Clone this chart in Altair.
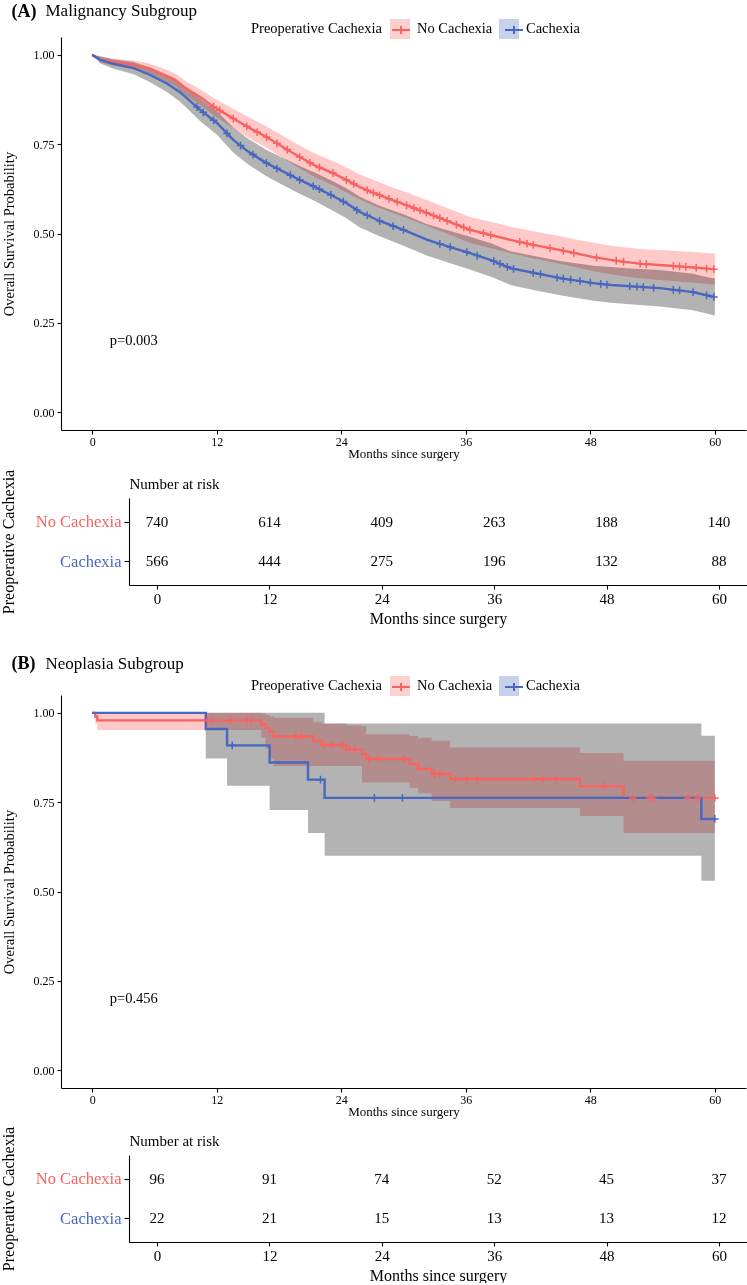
import altair as alt
import numpy as np
import pandas as pd

FONT = "Liberation Serif"
GROUPS = ["No Cachexia", "Cachexia"]
RED = "#F8625F"
BLUE = "#4767C0"
PINK = "#FFC9C9"
GRAY = "#B3B3B3"
MONTH_TICKS = [0, 12, 24, 36, 48, 60]
PROB_TICKS = [0.0, 0.25, 0.5, 0.75, 1.0]
CENSOR_SHAPE = "M-1,0H1M0,-1V1"
KEY_SHAPE = "M-0.9,0H0.9M0,-0.4V0.4"

# ---------------- (A) Malignancy subgroup ----------------
A_NO_T = [0, 0.8, 2, 4, 5.5, 6.5, 8, 9, 10.5, 11.7, 13, 14.3, 15.5, 16.8, 18.5, 20, 21.5, 23.2, 24.5, 25.8,
          27, 28.5, 30, 32.3, 34.5, 36.4, 38.5, 40.3, 42.5, 45, 46.5, 48.3, 50, 51.5, 53, 54.7, 56.5, 58, 59.5, 60]
A_NO_S = [1.0, 0.986, 0.98, 0.972, 0.962, 0.95, 0.93, 0.907, 0.88, 0.855, 0.832, 0.81, 0.79, 0.77, 0.74, 0.714, 0.69, 0.669, 0.65, 0.63,
          0.615, 0.598, 0.582, 0.557, 0.532, 0.51, 0.495, 0.482, 0.468, 0.454, 0.445, 0.434, 0.426, 0.42, 0.415, 0.412, 0.408, 0.405, 0.401, 0.40]
A_NO_LO = [1.0, 0.978, 0.97, 0.96, 0.948, 0.934, 0.912, 0.887, 0.858, 0.831, 0.806, 0.782, 0.761, 0.74, 0.709, 0.682, 0.657, 0.635, 0.615, 0.595,
           0.579, 0.562, 0.546, 0.521, 0.496, 0.474, 0.458, 0.445, 0.43, 0.415, 0.406, 0.394, 0.386, 0.379, 0.374, 0.37, 0.366, 0.362, 0.358, 0.357]
A_NO_HI = [1.0, 0.994, 0.99, 0.984, 0.976, 0.966, 0.948, 0.927, 0.902, 0.879, 0.858, 0.838, 0.819, 0.8, 0.771, 0.746, 0.723, 0.703, 0.685, 0.665,
           0.651, 0.634, 0.618, 0.593, 0.568, 0.546, 0.532, 0.519, 0.506, 0.493, 0.484, 0.474, 0.466, 0.461, 0.456, 0.454, 0.45, 0.448, 0.445, 0.445]

A_CA_T = [0, 0.8, 2, 4, 5.5, 7.2, 8.5, 10.4, 12, 13.6, 15, 16.8, 18.5, 20, 21.5, 23.2, 24.5, 25.8, 27.7, 30,
          32.3, 34.5, 36.4, 38.5, 40.3, 42.5, 45.1, 48.3, 50, 51.5, 54.7, 57.9, 59.5, 60]
A_CA_S = [1.0, 0.986, 0.975, 0.963, 0.945, 0.92, 0.895, 0.846, 0.81, 0.762, 0.73, 0.697, 0.672, 0.65, 0.63, 0.605, 0.585, 0.56, 0.535, 0.51,
          0.482, 0.462, 0.445, 0.425, 0.403, 0.39, 0.375, 0.361, 0.356, 0.353, 0.347, 0.336, 0.325, 0.322]
A_CA_LO = [1.0, 0.976, 0.962, 0.946, 0.925, 0.896, 0.868, 0.815, 0.777, 0.727, 0.694, 0.66, 0.634, 0.611, 0.59, 0.564, 0.543, 0.517, 0.492, 0.466,
           0.438, 0.417, 0.399, 0.378, 0.356, 0.342, 0.327, 0.312, 0.306, 0.303, 0.296, 0.285, 0.274, 0.27]
A_CA_HI = [1.0, 0.996, 0.988, 0.98, 0.965, 0.944, 0.922, 0.877, 0.843, 0.797, 0.766, 0.734, 0.71, 0.689, 0.67, 0.646, 0.627, 0.603, 0.578, 0.554,
           0.526, 0.507, 0.491, 0.472, 0.45, 0.438, 0.423, 0.41, 0.406, 0.403, 0.398, 0.387, 0.376, 0.374]

A_NO_CENSOR = [11.7, 12.3, 13.6, 14.9, 15.9, 16.8, 17.8, 18.8, 20.0, 21.0, 21.9, 23.2, 24.5, 25.2, 26.5, 27.1, 27.7, 28.6, 29.4, 30.3,
               31.0, 31.6, 32.2, 32.9, 33.5, 34.2, 35.1, 35.8, 36.4, 37.7, 38.4, 41.2, 41.9, 42.5, 44.1, 45.4, 46.4, 48.6, 50.5, 51.2,
               52.8, 53.4, 56.0, 56.6, 57.2, 58.2, 59.2, 59.9]
A_CA_CENSOR = [10.1, 10.7, 11.7, 13.0, 14.3, 15.5, 16.8, 17.8, 19.1, 20.0, 21.3, 21.9, 23.0, 24.2, 25.5, 26.5, 27.7, 29.0, 30.0, 33.5,
               34.5, 36.1, 37.1, 38.7, 39.3, 40.0, 40.6, 42.5, 43.2, 44.8, 45.4, 46.1, 47.0, 48.0, 49.0, 49.6, 51.8, 52.5, 53.1, 54.1,
               56.0, 56.6, 57.9, 59.2, 59.9]
A_RISK_NO = [740, 614, 409, 263, 188, 140]
A_RISK_CA = [566, 444, 275, 196, 132, 88]

# ---------------- (B) Neoplasia subgroup ----------------
B_NO_T = [0, 0.3, 0.5, 16.3, 16.7, 17.1, 17.5, 21.3, 22.1, 24.5, 26.0, 26.4, 30.6, 31.4, 32.7, 34.5, 47.0, 51.2, 60]
B_NO_S = [1.0, 0.99, 0.979, 0.968, 0.958, 0.947, 0.934, 0.922, 0.91, 0.897, 0.884, 0.871, 0.857, 0.843, 0.829, 0.815, 0.795, 0.762, 0.762]
B_NO_LO = [1.0, 0.97, 0.952, 0.93, 0.9, 0.87, 0.851, 0.851, 0.851, 0.851, 0.805, 0.805, 0.79, 0.775, 0.753, 0.734, 0.711, 0.664, 0.664]
B_NO_HI = [1.0, 1.0, 1.0, 0.998, 0.995, 0.99, 0.986, 0.975, 0.97, 0.965, 0.963, 0.94, 0.935, 0.93, 0.922, 0.903, 0.888, 0.866, 0.866]

B_CA_T = [0, 10.95, 13.0, 17.1, 20.8, 22.4, 58.7, 60]
B_CA_S = [1.0, 0.955, 0.909, 0.861, 0.813, 0.762, 0.703, 0.703]
B_CA_LO = [1.0, 0.872, 0.796, 0.728, 0.664, 0.60, 0.53, 0.53]
B_CA_HI = [1.0, 1.0, 1.0, 1.0, 1.0, 0.97, 0.936, 0.936]

B_NO_CENSOR = [11.1, 11.6, 13.3, 14.9, 15.3, 19.6, 20.2, 22.4, 23.2, 24.1, 24.8, 25.3, 26.7, 27.6, 30.0, 33.0, 33.5, 35.0, 36.1, 37.1,
               42.6, 43.4, 44.7, 49.3, 52.1, 53.7, 54.0, 57.4, 58.3, 60.0]
B_CA_CENSOR = [13.5, 22.0, 27.2, 29.9, 60.0]
B_RISK_NO = [96, 91, 74, 52, 45, 37]
B_RISK_CA = [22, 21, 15, 13, 13, 12]


def curve_frame(t, s, lo, hi, group):
    return pd.DataFrame({"t": t, "s": s, "lo": lo, "hi": hi, "group": group})


def censor_frame(ct, t, s, group, stepped):
    ct = np.asarray(ct, dtype=float)
    if stepped:
        idx = np.searchsorted(np.asarray(t, dtype=float), ct, side="right") - 1
        sv = np.asarray(s)[idx]
    else:
        sv = np.interp(ct, t, s)
    return pd.DataFrame({"t": ct, "s": sv, "group": group})


def km_panel(tag, name, no_df, ca_df, cens_df, pval, interp, title_offset, legend_y):
    xs = alt.Scale(domain=[-3, 63], nice=False, zero=False)
    ys = alt.Scale(domain=[-0.05, 1.05], nice=False, zero=False)
    x = alt.X("t:Q", scale=xs,
              axis=alt.Axis(values=MONTH_TICKS, title="Months since surgery", labelFontSize=12,
                            titleFontSize=13, labelPadding=2, titlePadding=0))
    yax = alt.Axis(values=PROB_TICKS, format=".2f", title="Overall Survival Probability",
                   labelFontSize=12, titleFontSize=14.5, labelPadding=3, titlePadding=16.5)
    col = alt.Scale(domain=GROUPS, range=[RED, BLUE])
    common = dict(orient="none", legendX=190, legendY=legend_y, direction="horizontal", titleOrient="left",
                  title="Preoperative Cachexia", symbolSize=400, labelFont=FONT, titleFont=FONT,
                  labelFontSize=14.5, titleFontSize=14.5, titleFontWeight="normal", labelColor="black",
                  titleColor="black", titlePadding=8, labelOffset=7, columnPadding=6, padding=0)
    stroke_leg = alt.Legend(symbolType=KEY_SHAPE, symbolStrokeWidth=2, symbolFillColor="transparent",
                            titleOpacity=0, labelOpacity=0, zindex=2, **common)
    fill_leg = alt.Legend(symbolType="square", symbolOpacity=0.3, symbolStrokeWidth=0, zindex=1, **common)
    stroke = alt.Stroke("group:N", scale=col, legend=stroke_leg)

    gray = alt.Chart(ca_df).mark_area(color=GRAY, interpolate=interp, opacity=1).encode(
        x=x, y=alt.Y("lo:Q", scale=ys, axis=yax), y2="hi:Q")
    pink = alt.Chart(no_df).mark_area(color=PINK, interpolate=interp, opacity=1, blend="multiply").encode(
        x=x, y=alt.Y("lo:Q", scale=ys, axis=yax), y2="hi:Q")
    red_line = alt.Chart(no_df).mark_line(interpolate=interp, strokeWidth=2.4).encode(
        x=x, y=alt.Y("s:Q", scale=ys, axis=yax), stroke=stroke)
    blue_line = alt.Chart(ca_df).mark_line(interpolate=interp, strokeWidth=2.4).encode(
        x=x, y=alt.Y("s:Q", scale=ys, axis=yax), stroke=stroke)
    marks = alt.Chart(cens_df).mark_point(shape=CENSOR_SHAPE, size=60, strokeWidth=1.5, filled=False, opacity=1).encode(
        x=x, y=alt.Y("s:Q", scale=ys, axis=yax), stroke=stroke)
    key = alt.Chart(pd.concat([no_df, ca_df])).mark_square(size=0, opacity=0).encode(
        x=x, y=alt.Y("s:Q", scale=ys, axis=yax),
        fill=alt.Fill("group:N", sort=GROUPS, scale=alt.Scale(range=[RED, BLUE]), legend=fill_leg))
    ptxt = alt.Chart(pd.DataFrame({"t": [1.7], "s": [0.2], "label": [pval]})).mark_text(
        align="left", baseline="middle", font=FONT, fontSize=14.5, color="black").encode(
        x=x, y=alt.Y("s:Q", scale=ys, axis=yax), text="label:N")

    title = alt.TitleParams(text=tag, subtitle="\u200b" + "\u00a0" * 8 + name, anchor="start", frame="bounds",
                            font=FONT, fontSize=18, fontWeight="bold", color="black",
                            subtitleFont=FONT, subtitleFontSize=17, subtitleColor="black",
                            subtitleFontWeight="normal", subtitlePadding=-17.5, offset=title_offset, dx=10)
    return alt.layer(gray, pink, red_line, blue_line, marks, key, ptxt, title=title).properties(
        width=685, height=393)


def risk_table(no_counts, ca_counts):
    df = pd.DataFrame({"t": MONTH_TICKS + MONTH_TICKS,
                       "group": [GROUPS[0]] * 6 + [GROUPS[1]] * 6,
                       "n": no_counts + ca_counts})
    xs = alt.Scale(domain=[-3, 63], range=[68, 686], nice=False, zero=False)
    ys = alt.Scale(domain=GROUPS, padding=0.59)
    y = alt.Y("group:N", scale=ys,
              axis=alt.Axis(offset=-68, title="Preoperative Cachexia",
                            labelColor=alt.ExprRef(expr=f"datum.value == '{GROUPS[0]}' ? '{RED}' : '{BLUE}'"),
                            labelFontSize=16.5, titleFontSize=16, tickSize=5, labelPadding=3, titlePadding=18.5))
    numbers = alt.Chart(df).mark_text(font=FONT, fontSize=15, color="black").encode(
        x=alt.X("t:Q", scale=xs, axis=alt.Axis(values=MONTH_TICKS, title="Months since surgery",
                                               labelFontSize=15, titleFontSize=16, labelPadding=2, titlePadding=4)),
        y=y, text="n:Q")
    heading = alt.Chart(df).mark_text(opacity=0, font=FONT, fontSize=15).encode(
        x=alt.X("t:Q", scale=xs, axis=alt.Axis(orient="top", domain=False, ticks=False, labels=False,
                                               title="Number at risk", titleAnchor="start",
                                               titleFontSize=15, titlePadding=7)),
        y=y, text="n:Q")
    return alt.layer(numbers, heading).resolve_axis(x="independent").properties(width=686, height=87)


a_no = curve_frame(A_NO_T, A_NO_S, A_NO_LO, A_NO_HI, GROUPS[0])
a_ca = curve_frame(A_CA_T, A_CA_S, A_CA_LO, A_CA_HI, GROUPS[1])
a_cens = pd.concat([censor_frame(A_NO_CENSOR, A_NO_T, A_NO_S, GROUPS[0], False),
                    censor_frame(A_CA_CENSOR, A_CA_T, A_CA_S, GROUPS[1], False)])
b_no = curve_frame(B_NO_T, B_NO_S, B_NO_LO, B_NO_HI, GROUPS[0])
b_ca = curve_frame(B_CA_T, B_CA_S, B_CA_LO, B_CA_HI, GROUPS[1])
b_cens = pd.concat([censor_frame(B_NO_CENSOR, B_NO_T, B_NO_S, GROUPS[0], True),
                    censor_frame(B_CA_CENSOR, B_CA_T, B_CA_S, GROUPS[1], True)])

panel_a = km_panel("(A)", "Malignancy Subgroup", a_no, a_ca, a_cens, "p=0.003", "linear", -2, -18)
panel_b = km_panel("(B)", "Neoplasia Subgroup", b_no, b_ca, b_cens, "p=0.456", "step-after", 2.5, -19)
table_a = risk_table(A_RISK_NO, A_RISK_CA)
table_b = risk_table(B_RISK_NO, B_RISK_CA)

top = alt.vconcat(panel_a, table_a, spacing=9).resolve_scale(stroke="independent", fill="independent")
bottom = alt.vconcat(panel_b, table_b, spacing=8).resolve_scale(stroke="independent", fill="independent")

chart = alt.vconcat(top, bottom, spacing=28).resolve_scale(
    stroke="independent", fill="independent"
).properties(
    padding={"left": 0, "top": 2, "right": 0, "bottom": 0}, background="white"
).configure_view(stroke=None).configure_axis(
    grid=False, domainColor="black", tickColor="black", labelColor="black", titleColor="black",
    labelFont=FONT, titleFont=FONT, titleFontWeight="normal", tickSize=4, domainWidth=1.1, tickWidth=1.1
).configure_title(font=FONT)

chart.save("out.html", embed_options={"renderer": "svg", "actions": False})
